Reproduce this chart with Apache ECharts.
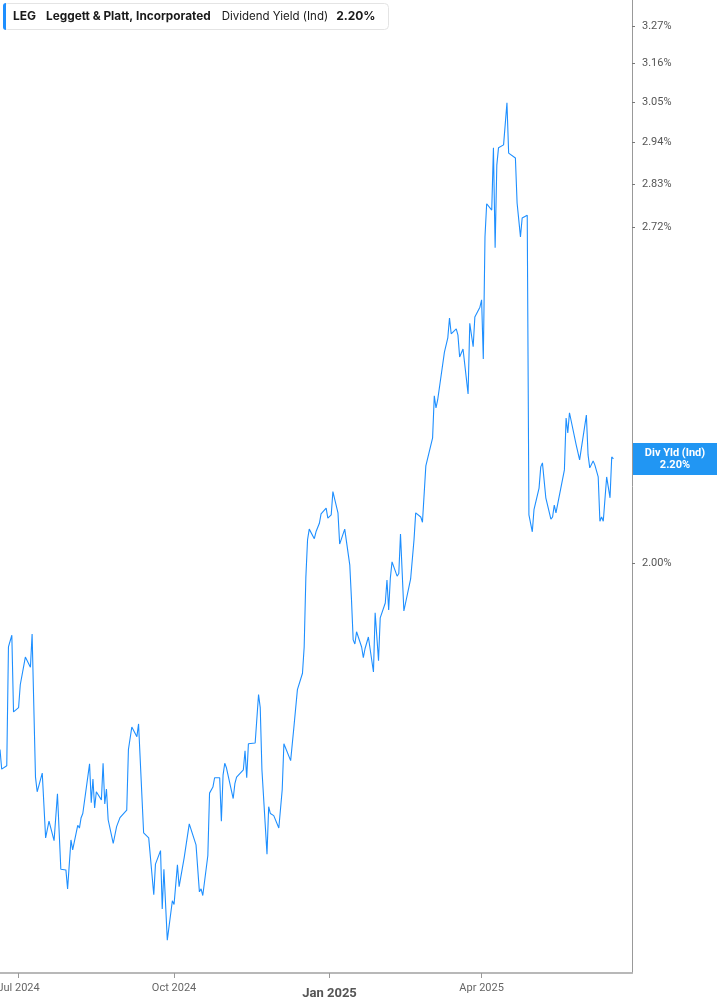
<!DOCTYPE html>
<html>
<head>
<meta charset="utf-8">
<script src="https://cdn.jsdelivr.net/npm/echarts@6/dist/echarts.min.js"></script>
<style>
html,body{margin:0;padding:0;background:#fff;}
#chart{width:717px;height:1005px;}
</style>
</head>
<body>
<div id="chart"></div>
<script>
const ticker = 'LEG';
const companyName = 'Leggett & Platt, Incorporated';
const metricName = 'Dividend Yield (Ind)';
const shortMetric = 'Div Yld (Ind)';

const dates = [
'2024-06-20','2024-06-21','2024-06-24','2024-06-25','2024-06-27','2024-06-28',
'2024-07-01','2024-07-02','2024-07-03','2024-07-05','2024-07-08','2024-07-09','2024-07-11','2024-07-12','2024-07-15','2024-07-17','2024-07-19','2024-07-22','2024-07-24','2024-07-26','2024-07-29','2024-07-30',
'2024-08-01','2024-08-02','2024-08-05','2024-08-06','2024-08-07','2024-08-08','2024-08-12','2024-08-13','2024-08-14','2024-08-15','2024-08-16','2024-08-19','2024-08-20','2024-08-21','2024-08-22','2024-08-23','2024-08-26','2024-08-28','2024-08-30',
'2024-09-03','2024-09-04','2024-09-06','2024-09-09','2024-09-10','2024-09-11','2024-09-13','2024-09-16','2024-09-19','2024-09-20','2024-09-23','2024-09-24','2024-09-25','2024-09-27','2024-09-30',
'2024-10-01','2024-10-03','2024-10-04','2024-10-07','2024-10-08','2024-10-10','2024-10-14','2024-10-16','2024-10-17','2024-10-18','2024-10-21','2024-10-22','2024-10-24','2024-10-25','2024-10-28','2024-10-29','2024-10-30','2024-10-31',
'2024-11-01','2024-11-05','2024-11-06','2024-11-07','2024-11-11','2024-11-12','2024-11-13','2024-11-14','2024-11-15','2024-11-18','2024-11-20','2024-11-21','2024-11-22','2024-11-25','2024-11-26','2024-11-27','2024-11-29',
'2024-12-02','2024-12-04','2024-12-05','2024-12-06','2024-12-09','2024-12-10','2024-12-11','2024-12-13','2024-12-16','2024-12-17','2024-12-18','2024-12-19','2024-12-20','2024-12-23','2024-12-24','2024-12-26','2024-12-27','2024-12-30','2024-12-31',
'2025-01-02','2025-01-03','2025-01-06','2025-01-07','2025-01-08','2025-01-10','2025-01-13','2025-01-14','2025-01-15','2025-01-16','2025-01-17','2025-01-20','2025-01-21','2025-01-22','2025-01-24','2025-01-27','2025-01-28','2025-01-30','2025-01-31',
'2025-02-03','2025-02-04','2025-02-05','2025-02-06','2025-02-07','2025-02-10','2025-02-11','2025-02-12','2025-02-14','2025-02-18','2025-02-20','2025-02-21','2025-02-24','2025-02-25','2025-02-27','2025-02-28',
'2025-03-03','2025-03-04','2025-03-05','2025-03-06','2025-03-07','2025-03-10','2025-03-12','2025-03-13','2025-03-14','2025-03-17','2025-03-18','2025-03-19','2025-03-20','2025-03-21','2025-03-24','2025-03-25','2025-03-27','2025-03-28','2025-03-31',
'2025-04-01','2025-04-02','2025-04-03','2025-04-04','2025-04-07','2025-04-08','2025-04-09','2025-04-10','2025-04-11','2025-04-14','2025-04-16','2025-04-17','2025-04-21','2025-04-22','2025-04-24','2025-04-25','2025-04-28','2025-04-29',
'2025-05-01','2025-05-02','2025-05-05','2025-05-06','2025-05-07','2025-05-09','2025-05-12','2025-05-13','2025-05-14','2025-05-15','2025-05-16','2025-05-20','2025-05-21','2025-05-22','2025-05-23','2025-05-27','2025-05-28','2025-05-29',
'2025-06-02','2025-06-03','2025-06-04','2025-06-06','2025-06-07','2025-06-09','2025-06-10','2025-06-11','2025-06-12','2025-06-14','2025-06-16','2025-06-17','2025-06-18'
];

const yieldValues = [
1.686,1.656,1.661,1.852,1.872,1.745,
1.752,1.789,1.792,1.835,1.818,1.874,1.644,1.622,1.650,1.555,1.579,1.551,1.619,1.511,1.510,1.484,
1.552,1.538,1.573,1.569,1.584,1.590,1.664,1.606,1.641,1.598,1.622,1.610,1.665,1.604,1.626,1.581,1.547,1.571,1.584,
1.595,1.686,1.721,1.706,1.726,1.724,1.562,1.555,1.476,1.518,1.537,1.457,1.511,1.416,1.468,
1.463,1.517,1.487,1.527,1.527,1.575,1.545,1.480,1.484,1.475,1.530,1.620,1.629,1.643,1.643,1.579,1.647,1.665,
1.658,1.612,1.634,1.644,1.655,1.684,1.643,1.695,1.692,1.696,1.773,1.752,1.655,1.532,1.600,1.590,1.587,
1.569,1.625,1.695,1.698,1.669,1.669,1.723,1.781,1.808,1.852,1.974,2.043,2.063,2.045,2.058,2.074,2.092,2.103,2.084,
2.090,2.135,2.094,2.035,2.037,2.063,1.996,1.934,1.864,1.857,1.878,1.852,1.834,1.849,1.869,1.810,1.911,1.829,1.902,
1.928,1.969,1.916,1.973,2.002,1.976,1.981,2.054,1.914,1.971,2.043,2.094,2.086,2.076,2.186,2.184,
2.243,2.331,2.305,2.322,2.318,2.426,2.458,2.503,2.467,2.478,2.464,2.415,2.411,2.433,2.335,2.491,2.438,2.505,2.528,
2.545,2.411,2.696,2.779,2.763,2.925,2.669,2.879,2.925,2.933,3.048,2.911,2.898,2.781,2.696,2.743,2.750,2.090,
2.058,2.100,2.142,2.184,2.192,2.123,2.082,2.086,2.109,2.094,2.094,2.178,2.284,2.253,2.295,2.228,2.224,2.198,
2.290,2.208,2.182,2.196,2.188,2.164,2.078,2.086,2.078,2.164,2.123,2.204,2.200
];

const yTickLabels = [2.00, 2.72, 2.83, 2.94, 3.05, 3.16, 3.27];
const xTickDates = ['2024-07-01', '2024-10-01', '2025-01-01', '2025-04-01'];
const xStart = '2024-06-20';
const xEnd = '2025-06-29';
const yMin = 1.374;
const yMax = 3.349;

const MONTHS = ['Jan','Feb','Mar','Apr','May','Jun','Jul','Aug','Sep','Oct','Nov','Dec'];
function parseDay(s){ const p = s.split('-').map(Number); return Date.UTC(p[0], p[1]-1, p[2]); }

const seriesData = dates.map((d, i) => [parseDay(d), yieldValues[i]]);
const lastVal = yieldValues[yieldValues.length - 1];
const xTicks = xTickDates.map(parseDay);

const FONT = 'Inter, "Noto Sans", sans-serif';
const BLUE = '#1e8fff';

const chart = echarts.init(document.getElementById('chart'), null, {renderer: 'canvas'});
chart.setOption({
  animation: false,
  backgroundColor: '#fff',
  textStyle: {fontFamily: FONT},
  title: {
    left: 3, top: 3,
    padding: [0, 13, 0, 0],
    backgroundColor: '#fff',
    borderColor: '#e4e4e4',
    borderWidth: 1,
    borderRadius: 4,
    text: '{bar|}{t|' + ticker + '}{s|' + companyName + '}{n|' + metricName + '}{v|' + lastVal.toFixed(2) + '%}',
    textStyle: {
      rich: {
        bar: {backgroundColor: BLUE, width: 3, height: 27, borderRadius: [3,0,0,3]},
        t: {fontFamily: FONT, fontWeight: 'bold', fontSize: 12, color: '#1a1a1a', padding: [0, 0, 0, 7]},
        s: {fontFamily: FONT, fontWeight: 'bold', fontSize: 11.8, color: '#1a1a1a', padding: [0, 0, 0, 10]},
        n: {fontFamily: FONT, fontWeight: 'normal', fontSize: 11.5, color: '#1a1a1a', padding: [0, 0, 0, 11]},
        v: {fontFamily: FONT, fontWeight: 'bold', fontSize: 12, color: '#1a1a1a', padding: [0, 0, 0, 8]}
      }
    }
  },
  grid: {left: 0, right: 85, top: 0, bottom: 32, containLabel: false, outerBoundsMode: 'none'},
  xAxis: {
    type: 'value',
    min: parseDay(xStart),
    max: parseDay(xEnd),
    axisLine: {show: true, lineStyle: {color: '#b8b8b8', width: 2}},
    axisTick: {show: true, customValues: xTicks, length: 5, lineStyle: {color: '#999', width: 1}},
    splitLine: {show: false},
    axisLabel: {
      customValues: xTicks,
      margin: 10,
      color: '#666',
      fontSize: 11,
      fontFamily: 'Roboto, sans-serif',
      formatter: function (v) {
        const d = new Date(v);
        const s = MONTHS[d.getUTCMonth()] + ' ' + d.getUTCFullYear();
        return d.getUTCMonth() === 0 ? '{b|' + s + '}' : s;
      },
      rich: {b: {fontWeight: 'bold', fontSize: 13, color: '#555', fontFamily: 'Roboto, sans-serif', padding: [4, 0, 0, 0]}}
    }
  },
  yAxis: {
    type: 'log',
    logBase: 10,
    min: yMin,
    max: yMax,
    position: 'right',
    axisLine: {show: true, lineStyle: {color: '#999', width: 1}},
    axisTick: {show: true, customValues: yTickLabels, length: 3, lineStyle: {color: '#777'}},
    splitLine: {show: false},
    axisLabel: {
      customValues: yTickLabels,
      margin: 10,
      color: '#555',
      fontSize: 11,
      fontFamily: 'Roboto, sans-serif',
      formatter: v => Number(v).toFixed(2) + '%'
    }
  },
  series: [{
    type: 'line',
    data: seriesData,
    showSymbol: false,
    symbol: 'none',
    lineStyle: {color: BLUE, width: 1.1},
    itemStyle: {color: BLUE},
    markLine: {
      silent: true,
      symbol: 'none',
      lineStyle: {color: 'rgba(0,0,0,0)', width: 0},
      data: [{yAxis: lastVal}],
      label: {
        show: true,
        position: 'end',
        distance: 1,
        backgroundColor: '#2196f3',
        padding: [4, 7, 4, 7],
        formatter: '{a|' + shortMetric + '}\n{a|' + lastVal.toFixed(2) + '%}',
        rich: {a: {width: 70, align: 'center', color: '#fff', fontWeight: 'bold', fontSize: 11, lineHeight: 12, fontFamily: 'Roboto, sans-serif'}}
      }
    }
  }]
});
</script>
</body>
</html>
